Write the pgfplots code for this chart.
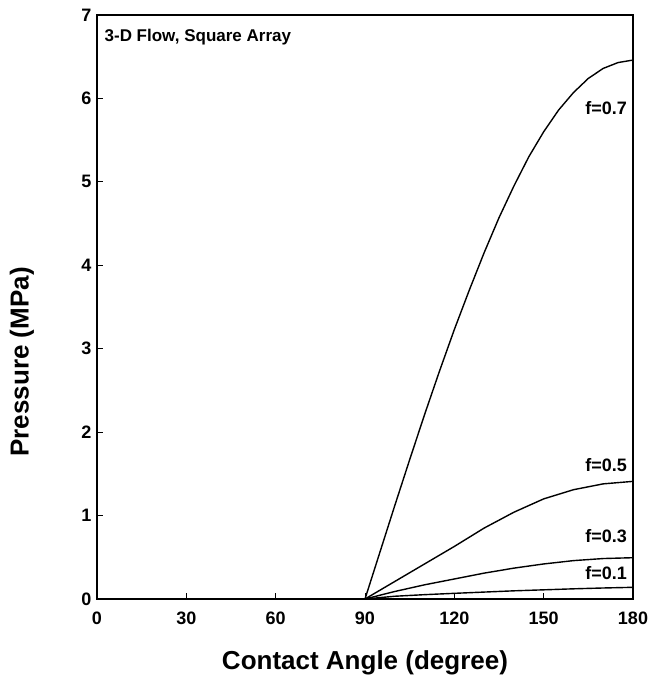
\documentclass[border=0pt]{standalone}
\usepackage{pgfplots}
\pgfplotsset{compat=1.18}
\usepackage{fontspec}
\setmainfont{Liberation Sans}

\begin{document}
\begin{tikzpicture}
\begin{axis}[
    scale only axis,
    width=536pt, height=584pt,
    xmin=0, xmax=180, ymin=0, ymax=7,
    xtick={0,30,...,180}, ytick={0,1,...,7},
    tick pos=left, tick align=inside,
    major tick length=6pt,
    axis line style={line width=1.1pt},
    tick style={line width=0.9pt, black},
    /pgf/number format/assume math mode=true,
    ticklabel style={font=\fontsize{18}{20}\selectfont\bfseries},
    xticklabel style={yshift=-9pt},
    yticklabel style={xshift=-2pt},
    xlabel={Contact Angle (degree)},
    ylabel={Pressure (MPa)},
    xlabel style={font=\fontsize{26}{30}\selectfont\bfseries, at={(axis description cs:0.5,-0.120)}, anchor=base},
    ylabel style={font=\fontsize{26}{30}\selectfont\bfseries, at={(axis description cs:-0.140,0.406)}, anchor=center},
    cycle list={{black, mark=none}},
    every axis plot post/.append style={line width=1.4pt, color=black, mark=none},
    clip=false,
]
% flat part below 90 degrees
\addplot coordinates {(0,0) (90,0)};
% f = 0.7
\addplot coordinates {(90,0) (95,0.56) (100,1.12) (105,1.67) (110,2.21) (115,2.73) (120,3.23) (125,3.70) (130,4.15) (135,4.57) (140,4.95) (145,5.30) (150,5.60) (155,5.86) (160,6.07) (165,6.24) (170,6.36) (175,6.43) (180,6.46)};
% f = 0.5
\addplot coordinates {(90,0) (100,0.21) (110,0.42) (120,0.63) (130,0.85) (140,1.04) (150,1.20) (160,1.31) (170,1.38) (180,1.41)};
% f = 0.3
\addplot coordinates {(90,0) (100,0.09) (110,0.17) (120,0.24) (130,0.31) (140,0.37) (150,0.42) (160,0.46) (170,0.485) (180,0.495)};
% f = 0.1
\addplot coordinates {(90,0) (100,0.033) (110,0.052) (120,0.068) (130,0.083) (140,0.098) (150,0.11) (160,0.122) (170,0.132) (180,0.14)};

\node[anchor=west, font=\fontsize{17}{19}\selectfont\bfseries, inner sep=0pt] at (axis cs:2.5,6.74) {3-D Flow, Square Array};
\node[anchor=east, font=\fontsize{18}{20}\selectfont\bfseries, inner sep=0pt] at (axis cs:178,5.89) {f=0.7};
\node[anchor=east, font=\fontsize{18}{20}\selectfont\bfseries, inner sep=0pt] at (axis cs:178,1.61) {f=0.5};
\node[anchor=east, font=\fontsize{18}{20}\selectfont\bfseries, inner sep=0pt] at (axis cs:178,0.75) {f=0.3};
\node[anchor=east, font=\fontsize{18}{20}\selectfont\bfseries, inner sep=0pt] at (axis cs:178,0.31) {f=0.1};
\end{axis}
\pgfresetboundingbox
\useasboundingbox (-97pt,-78pt) rectangle (555pt,599pt);
\end{tikzpicture}
\end{document}
